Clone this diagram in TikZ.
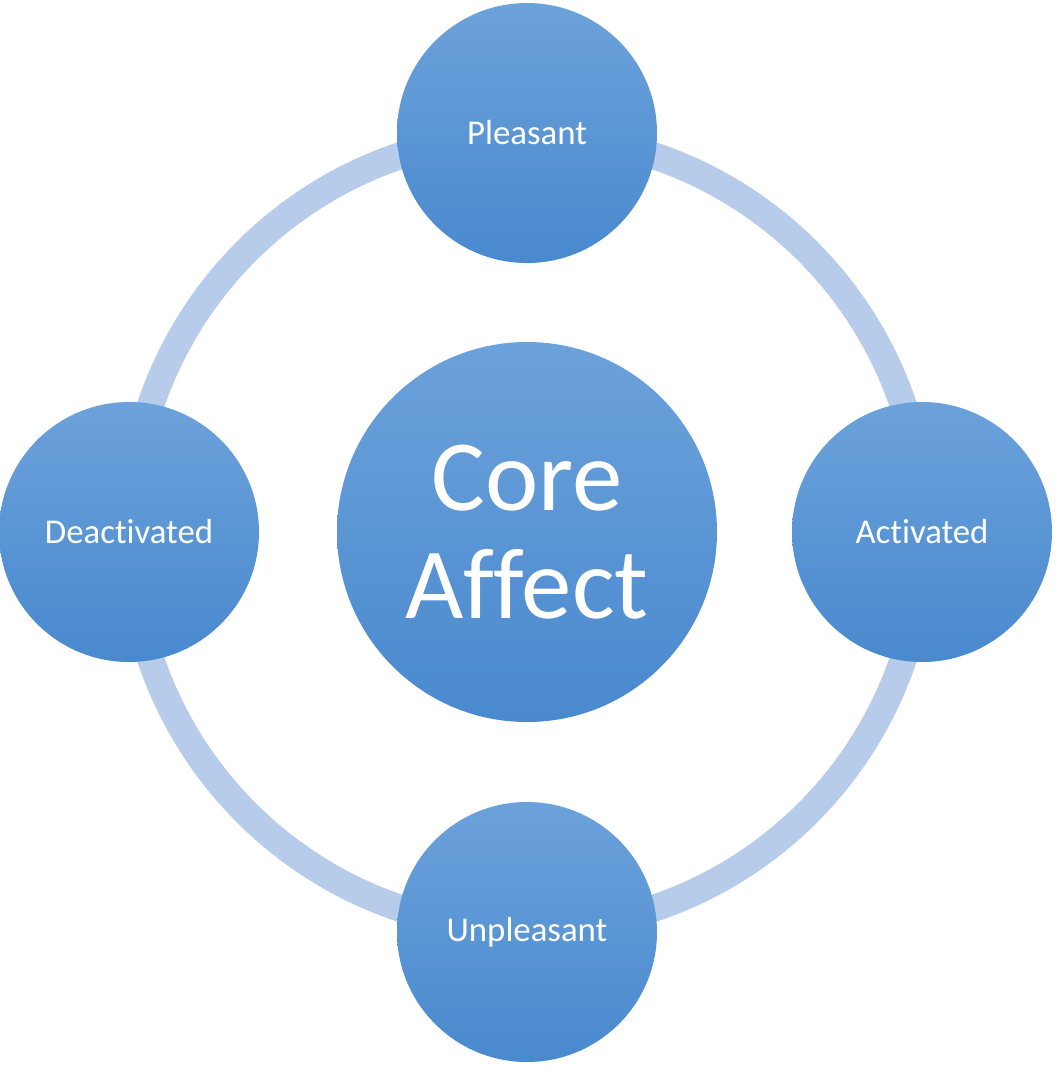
\documentclass[tikz,border=0pt]{standalone}
\usepackage{fontspec}
\setmainfont[Ligatures=NoCommon]{Carlito}
\definecolor{ringblue}{RGB}{183,203,234}
\definecolor{lightblue}{RGB}{108,162,219}
\definecolor{darkblue}{RGB}{73,137,206}
\begin{document}
\begin{tikzpicture}[outer/.style={circle,top color=lightblue,bottom color=darkblue,draw=none,minimum size=2.6cm,inner sep=0pt,text=white,font=\fontsize{9.9}{12}\selectfont},
	core/.style={outer,minimum size=3.8cm,align=center,font=\fontsize{28.7}{30.7}\selectfont},
	ring/.style={draw=ringblue,line width=0.27cm}]
	\useasboundingbox (0,0) rectangle (10.55,-10.67);

	% ring behind the circles
	\coordinate (mid) at (5.27,-5.32);
	\draw[ring] (mid) circle (3.97);

	\node[core] (core) at (mid) {Core\\Affect};
	\node[outer] (pleasant) at (5.27,-1.33) {Pleasant};
	\node[outer] (unpleasant) at (5.27,-9.32) {Unpleasant};
	\node[outer] (deact) at (1.29,-5.32) {Deactivated};
	\node[outer] (act) at (9.22,-5.32) {Activated};
\end{tikzpicture}
\end{document}
